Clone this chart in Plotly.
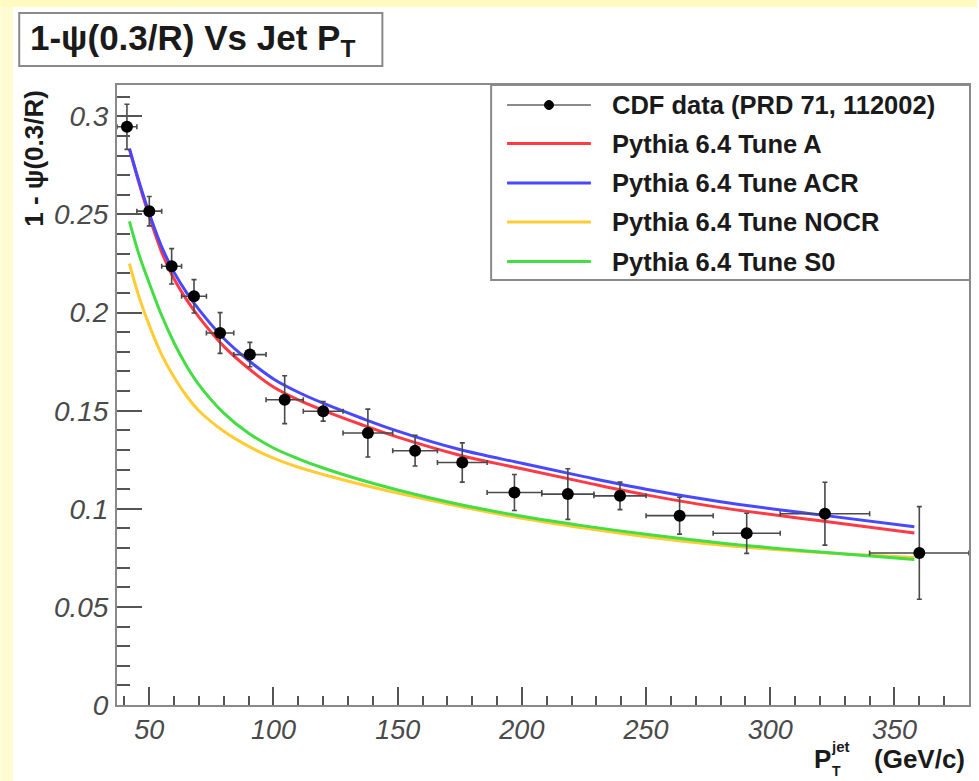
import plotly.graph_objects as go

# ---------------- data ----------------
bin_edges = [37, 45, 55, 63, 73, 84, 97, 112, 128, 148, 166, 186, 208, 229, 250, 277, 304, 340, 380]
cdf_y = [0.2947, 0.2517, 0.2236, 0.2083, 0.1896, 0.1786, 0.1556, 0.1497, 0.1386, 0.1296,
         0.1236, 0.1083, 0.1075, 0.1066, 0.0965, 0.0875, 0.0975, 0.0775]
cdf_err = [0.0115, 0.0075, 0.009, 0.0085, 0.0104, 0.0062, 0.0122, 0.005, 0.0122, 0.0078,
           0.0100, 0.0092, 0.0129, 0.0070, 0.0094, 0.0102, 0.0160, 0.0236]

curve_x = [42, 46, 50, 55, 60, 65, 70, 80, 90, 100, 110, 120, 135, 150, 175, 200, 225, 250, 280, 320, 358]
tune_a = [0.2835, 0.2654, 0.2490, 0.2307, 0.2171, 0.2066, 0.1977, 0.1828, 0.1715, 0.1621, 0.1555,
          0.1502, 0.1431, 0.1365, 0.1273, 0.1204, 0.1136, 0.1071, 0.1006, 0.0939, 0.0877]
tune_acr = [0.2835, 0.2662, 0.2505, 0.2335, 0.2205, 0.2102, 0.2015, 0.1868, 0.1756, 0.1662, 0.1594,
            0.1538, 0.1464, 0.1396, 0.1302, 0.1232, 0.1164, 0.1100, 0.1036, 0.0969, 0.0908]
tune_nocr = [0.2250, 0.2075, 0.1935, 0.1785, 0.1670, 0.1575, 0.1500, 0.1395, 0.1318, 0.1258, 0.1212,
             0.1175, 0.1125, 0.1080, 0.1012, 0.0952, 0.0902, 0.0858, 0.0815, 0.0777, 0.0752]
tune_s0 = [0.2465, 0.2290, 0.2150, 0.1985, 0.1845, 0.1728, 0.1632, 0.1488, 0.1385, 0.1310, 0.1255,
           0.1208, 0.1148, 0.1096, 0.1022, 0.0962, 0.0913, 0.0870, 0.0826, 0.0780, 0.0742]

legend_names = ["CDF data (PRD 71, 112002)", "Pythia 6.4 Tune A", "Pythia 6.4 Tune ACR",
                "Pythia 6.4 Tune NOCR", "Pythia 6.4 Tune S0"]
colors = {"A": "#ff3a44", "ACR": "#4848ff", "NOCR": "#ffcc33", "S0": "#44dd44"}

x_range = [37, 380]
y_range = [0, 0.316]

# ---------------- layout helpers ----------------
W, H = 979, 781
L, R, T, B = 117, 971, 85, 705
FONT = "Liberation Sans, Arial, sans-serif"


def fx(px):
    return (px - L) / (R - L)


def fy(py):
    return (B - py) / (B - T)


centers = [(a + b) / 2 for a, b in zip(bin_edges[:-1], bin_edges[1:])]
halfw = [(b - a) / 2 for a, b in zip(bin_edges[:-1], bin_edges[1:])]

fig = go.Figure()

for name, ys, key in [("Pythia 6.4 Tune A", tune_a, "A"), ("Pythia 6.4 Tune ACR", tune_acr, "ACR"),
                      ("Pythia 6.4 Tune NOCR", tune_nocr, "NOCR"), ("Pythia 6.4 Tune S0", tune_s0, "S0")]:
    fig.add_trace(go.Scatter(x=curve_x, y=ys, mode="lines", name=name,
                             line=dict(color=colors[key], width=3, shape="spline", smoothing=1.0),
                             showlegend=False, hoverinfo="skip"))

fig.add_trace(go.Scatter(
    x=centers, y=cdf_y, mode="markers", name=legend_names[0], showlegend=False,
    marker=dict(color="black", size=12),
    error_y=dict(type="data", array=cdf_err, color="#4a4a4a", thickness=1.6, width=2.5),
    error_x=dict(type="data", array=halfw, color="#4a4a4a", thickness=1.6, width=2.5),
))

shapes = []
annotations = []

# yellow border strips of the slide
shapes.append(dict(type="rect", xref="paper", yref="paper", x0=fx(0), x1=fx(13), y0=fy(H), y1=fy(0),
                   fillcolor="#fffcd4", line=dict(width=0), layer="below"))
shapes.append(dict(type="rect", xref="paper", yref="paper", x0=fx(0), x1=fx(W), y0=fy(7), y1=fy(0),
                   fillcolor="#fffbc0", line=dict(width=0), layer="below"))

# title box
shapes.append(dict(type="rect", xref="paper", yref="paper", x0=fx(19), x1=fx(383), y0=fy(66), y1=fy(13),
                   fillcolor="white", line=dict(color="#8a8a8a", width=2), layer="above"))
annotations.append(dict(xref="paper", yref="paper", x=fx(28), y=fy(40), xanchor="left", yanchor="middle",
                        text="<b>1-ψ(0.3/R) Vs Jet P<sub>T</sub></b>", showarrow=False,
                        font=dict(family=FONT, size=35, color="#1a1a1a")))

# legend box (manual, ROOT style)
shapes.append(dict(type="rect", xref="paper", yref="paper", x0=fx(492), x1=fx(972), y0=fy(280), y1=fy(85),
                   fillcolor="white", line=dict(color="#8a8a8a", width=2), layer="above"))
rows = [105, 143.5, 183, 222, 261.5]
legend_colors = ["#8a8a8a", colors["A"], colors["ACR"], colors["NOCR"], colors["S0"]]
for i, (nm, ry, col) in enumerate(zip(legend_names, rows, legend_colors)):
    shapes.append(dict(type="line", xref="paper", yref="paper", x0=fx(508), x1=fx(592), y0=fy(ry), y1=fy(ry),
                       line=dict(color=col, width=2 if i == 0 else 3), layer="above"))
    annotations.append(dict(xref="paper", yref="paper", x=fx(611), y=fy(ry), xanchor="left", yanchor="middle",
                            text="<b>%s</b>" % nm, showarrow=False,
                            font=dict(family=FONT, size=25.5, color="#1a1a1a")))
shapes.append(dict(type="circle", xref="paper", yref="paper", xsizemode="pixel", ysizemode="pixel",
                   xanchor=fx(550), yanchor=fy(rows[0]), x0=-4.5, x1=4.5, y0=-4.5, y1=4.5,
                   fillcolor="black", line=dict(color="black", width=1), layer="above"))

# axis titles
annotations.append(dict(xref="paper", yref="paper", x=fx(33), y=fy(88), xanchor="center", yanchor="top",
                        textangle=-90, text="<b>1 - ψ(0.3/R)</b>", showarrow=False,
                        font=dict(family=FONT, size=26, color="#1a1a1a")))
annotations.append(dict(xref="paper", yref="paper", x=fx(969), y=fy(759), xanchor="right", yanchor="middle",
                        text="<b>(GeV/c)</b>", showarrow=False,
                        font=dict(family=FONT, size=26, color="#1a1a1a")))
annotations.append(dict(xref="paper", yref="paper", x=fx(814), y=fy(759), xanchor="left", yanchor="middle",
                        text="<b>P</b>", showarrow=False,
                        font=dict(family=FONT, size=26, color="#1a1a1a")))
annotations.append(dict(xref="paper", yref="paper", x=fx(832), y=fy(771), xanchor="left", yanchor="middle",
                        text="<b>T</b>", showarrow=False,
                        font=dict(family=FONT, size=14, color="#1a1a1a")))
annotations.append(dict(xref="paper", yref="paper", x=fx(831), y=fy(746), xanchor="left", yanchor="middle",
                        text="<b>jet</b>", showarrow=False,
                        font=dict(family=FONT, size=15, color="#1a1a1a")))

fig.update_layout(
    width=W, height=H,
    margin=dict(l=L, r=W - R, t=T, b=H - B, pad=0),
    paper_bgcolor="white", plot_bgcolor="white",
    showlegend=False,
    shapes=shapes, annotations=annotations,
    xaxis=dict(range=x_range, dtick=50, tick0=0, ticks="inside", ticklen=18, tickwidth=1.5, tickcolor="#555",
               minor=dict(dtick=10, tick0=0, ticks="inside", ticklen=9, tickwidth=1.5, tickcolor="#555"),
               showline=True, mirror=True, linecolor="#8a8a8a", linewidth=2, showgrid=False, zeroline=False,
               tickfont=dict(family=FONT, size=27, color="#4a4a4a", style="italic"),
               ticklabelstandoff=0),
    yaxis=dict(range=y_range, dtick=0.05, tick0=0, ticks="inside", ticklen=25, tickwidth=1.5, tickcolor="#555",
               minor=dict(dtick=0.01, tick0=0, ticks="inside", ticklen=13, tickwidth=1.5, tickcolor="#555"),
               showline=True, mirror=True, linecolor="#8a8a8a", linewidth=2, showgrid=False, zeroline=False,
               tickfont=dict(family=FONT, size=28, color="#4a4a4a", style="italic"),
               ticklabelstandoff=1),
)

fig.write_html("out.html")
